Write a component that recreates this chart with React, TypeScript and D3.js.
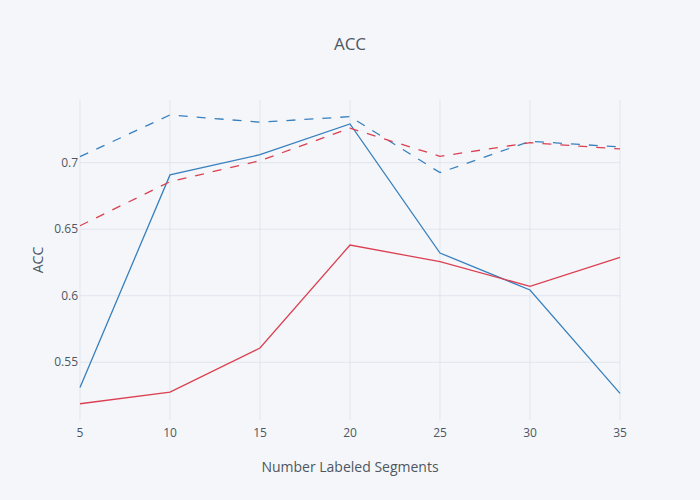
import React, { useEffect, useRef } from 'react';
import * as d3 from 'd3';

// Number of labeled segments
const segments = [5, 10, 15, 20, 25, 30, 35];

// ACC values per series
const blueSolid = [0.5311, 0.6908, 0.706, 0.7291, 0.6321, 0.6043, 0.5266];
const redSolid = [0.5188, 0.5276, 0.5607, 0.6381, 0.6256, 0.6071, 0.6289];
const blueDashed = [0.7045, 0.7359, 0.7304, 0.7346, 0.6925, 0.7161, 0.7118];
const redDashed = [0.6526, 0.6857, 0.7015, 0.7259, 0.7048, 0.715, 0.7103];

const yTicks = [0.55, 0.6, 0.65, 0.7];
const xTicks = [5, 10, 15, 20, 25, 30, 35];

const BLUE = '#3780bf';
const RED = '#db4052';

const App: React.FC = () => {
  const svgRef = useRef<SVGSVGElement>(null);

  useEffect(() => {
    if (!svgRef.current) return;
    const width = 700;
    const height = 500;
    const margin = { top: 100, right: 80, bottom: 80, left: 80 };
    const font = '"Open Sans", sans-serif';
    const textColor = '#4d5663';

    const svg = d3.select(svgRef.current);
    svg.selectAll('*').remove();

    svg.append('rect')
      .attr('width', width)
      .attr('height', height)
      .attr('fill', '#f5f6f9');

    const x = d3.scaleLinear()
      .domain([5, 35])
      .range([margin.left, width - margin.right]);
    const y = d3.scaleLinear()
      .domain([0.5066, 0.7471])
      .range([height - margin.bottom, margin.top]);

    // Grid lines
    svg.append('g')
      .selectAll('line')
      .data(xTicks)
      .enter()
      .append('line')
      .attr('x1', d => x(d))
      .attr('x2', d => x(d))
      .attr('y1', margin.top)
      .attr('y2', height - margin.bottom)
      .attr('stroke', '#e1e5ed')
      .attr('stroke-width', 1);

    svg.append('g')
      .selectAll('line')
      .data(yTicks)
      .enter()
      .append('line')
      .attr('x1', margin.left)
      .attr('x2', width - margin.right)
      .attr('y1', d => y(d))
      .attr('y2', d => y(d))
      .attr('stroke', '#e1e5ed')
      .attr('stroke-width', 1);

    // Tick labels
    svg.append('g')
      .selectAll('text')
      .data(xTicks)
      .enter()
      .append('text')
      .attr('x', d => x(d))
      .attr('y', height - margin.bottom + 17)
      .attr('text-anchor', 'middle')
      .attr('font-family', font)
      .attr('font-size', 12)
      .attr('fill', textColor)
      .text(d => String(d));

    svg.append('g')
      .selectAll('text')
      .data(yTicks)
      .enter()
      .append('text')
      .attr('x', margin.left - 2)
      .attr('y', d => y(d))
      .attr('dy', '0.35em')
      .attr('text-anchor', 'end')
      .attr('font-family', font)
      .attr('font-size', 12)
      .attr('fill', textColor)
      .text(d => String(d));

    // Lines
    const series = [
      { values: blueSolid, color: BLUE, dash: null },
      { values: redSolid, color: RED, dash: null },
      { values: blueDashed, color: BLUE, dash: '9,9' },
      { values: redDashed, color: RED, dash: '9,9' },
    ];

    const line = d3.line<number>()
      .x((_, i) => x(segments[i]))
      .y(d => y(d));

    series.forEach(s => {
      svg.append('path')
        .datum(s.values)
        .attr('d', line)
        .attr('fill', 'none')
        .attr('stroke', s.color)
        .attr('stroke-width', 1.3)
        .attr('stroke-dasharray', s.dash);
    });

    // Titles
    svg.append('text')
      .attr('x', width / 2)
      .attr('y', 50)
      .attr('text-anchor', 'middle')
      .attr('font-family', font)
      .attr('font-size', 17)
      .attr('fill', textColor)
      .text('ACC');

    svg.append('text')
      .attr('x', (margin.left + width - margin.right) / 2)
      .attr('y', 472)
      .attr('text-anchor', 'middle')
      .attr('font-family', font)
      .attr('font-size', 14)
      .attr('fill', textColor)
      .text('Number Labeled Segments');

    svg.append('text')
      .attr('transform', `translate(43, ${(margin.top + height - margin.bottom) / 2}) rotate(-90)`)
      .attr('text-anchor', 'middle')
      .attr('font-family', font)
      .attr('font-size', 14)
      .attr('fill', textColor)
      .text('ACC');
  }, []);

  return (
    <svg
      ref={svgRef}
      width={700}
      height={500}
      style={{ position: 'absolute', left: 0, top: 0, display: 'block' }}
    />
  );
};

export default App;
